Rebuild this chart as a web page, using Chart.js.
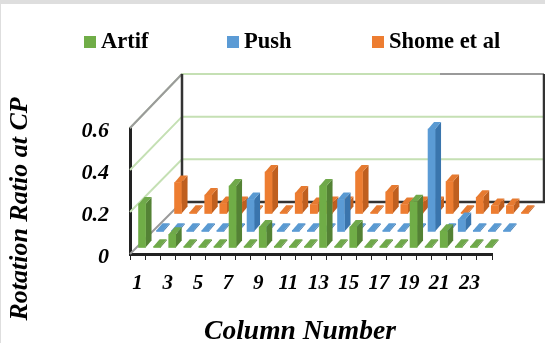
<!DOCTYPE html>
<html>
<head>
<meta charset="utf-8">
<style>
html, body { margin: 0; padding: 0; background: #fff; overflow: hidden; }
#frame { position: absolute; left: 0; top: 0; width: 544px; height: 339px; border-top: 4px solid #dedede; border-left: 1px solid #dedede; }
canvas { position: absolute; left: 0; top: 0; }
</style>
</head>
<body>
<div id="frame"></div>
<canvas id="myChart" width="545" height="343"></canvas>
<script src="https://cdn.jsdelivr.net/npm/chart.js@4"></script>
<script>
const columns = ['1','2','3','4','5','6','7','8','9','10','11','12','13','14','15','16','17','18','19','20','21','22','23','24'];
const artif = [0.21,0.008,0.065,0.008,0.008,0.008,0.295,0.008,0.1,0.008,0.008,0.008,0.295,0.008,0.1,0.008,0.008,0.008,0.22,0.008,0.08,0.008,0.008,0.008];
const push = [0.008,0.008,0.008,0.008,0.008,0.008,0.155,0.008,0.008,0.008,0.008,0.008,0.155,0.008,0.008,0.008,0.008,0.008,0.49,0.008,0.06,0.008,0.008,0.008];
const shome = [0.15,0.008,0.09,0.05,0.05,0.008,0.2,0.008,0.1,0.045,0.05,0.05,0.2,0.008,0.105,0.045,0.05,0.05,0.155,0.008,0.08,0.04,0.04,0.008];
const gridValues = [0.2, 0.4, 0.6];

const serif = 'Liberation Serif';
const green = ['#70ad47', '#548235', '#6fa84a'];
const blue = ['#5b9bd5', '#3a75ad', '#5a9ad2'];
const orange = ['#ed7d31', '#bf5f1f', '#e67a30'];

// depth of each row on the floor
const rows = [
    { dx: 4.5, dy: -6 },
    { dx: 22.5, dy: -22 },
    { dx: 40.5, dy: -40 }
];
const sideX = 6;
const sideY = -7;

const fakeDepth = {
    id: 'fakeDepth',
    beforeDatasetsDraw(chart) {
        const c = chart.ctx;
        const y = chart.scales.y;
        const left = chart.chartArea.left;
        const bx = 182, rx = 544;
        const backY = (v) => 202 - 128 * v / 0.6;
        c.save();
        c.lineWidth = 2;
        c.strokeStyle = '#c5e0b4';
        gridValues.forEach((v) => {
            c.beginPath();
            c.moveTo(left, y.getPixelForValue(v));
            c.lineTo(bx, backY(v));
            c.lineTo(rx, backY(v));
            c.stroke();
        });
        // upper edge
        c.strokeStyle = '#9a9a9a';
        c.beginPath();
        c.moveTo(left, y.getPixelForValue(0.6));
        c.lineTo(bx, backY(0.6));
        c.stroke();
        c.beginPath();
        c.moveTo(440, backY(0.6));
        c.lineTo(rx, backY(0.6));
        c.stroke();
        // floor edge
        c.beginPath();
        c.moveTo(left, y.getPixelForValue(0));
        c.lineTo(bx, backY(0));
        c.stroke();
        // back wall
        c.strokeStyle = '#333';
        c.lineWidth = 2.5;
        c.beginPath();
        c.moveTo(bx, backY(0.6));
        c.lineTo(bx, backY(0));
        c.lineTo(rx, backY(0));
        c.lineTo(rx, backY(0.6));
        c.stroke();
        c.restore();
    },
    beforeDatasetDraw(chart, args) {
        const c = chart.ctx;
        const ds = chart.data.datasets[args.index];
        const row = rows[args.index];
        c.save();
        c.translate(row.dx, row.dy);
        args.meta.data.forEach((bar) => {
            const p = bar.getProps(['x', 'y', 'base', 'width'], true);
            const r = p.x + p.width / 2;
            const l = p.x - p.width / 2;
            c.fillStyle = ds.sideColor;
            c.beginPath();
            c.moveTo(r, p.y);
            c.lineTo(r + sideX, p.y + sideY);
            c.lineTo(r + sideX, p.base + sideY);
            c.lineTo(r, p.base);
            c.closePath();
            c.fill();
            c.fillStyle = ds.topColor;
            c.beginPath();
            c.moveTo(l, p.y);
            c.lineTo(l + sideX, p.y + sideY);
            c.lineTo(r + sideX, p.y + sideY);
            c.lineTo(r, p.y);
            c.closePath();
            c.fill();
        });
    },
    afterDatasetDraw(chart) {
        chart.ctx.restore();
    },
    afterDraw(chart) {
        const c = chart.ctx;
        c.save();
        c.fillStyle = '#000';
        c.textBaseline = 'middle';
        // legend
        const keys = [84, 227, 372];
        c.font = 'bold 22.5px "' + serif + '"';
        chart.data.datasets.forEach((ds, i) => {
            c.fillStyle = ds.backgroundColor;
            c.fillRect(keys[i], 36, 12, 12);
            c.fillStyle = '#000';
            c.fillText(ds.label, keys[i] + 17, 42);
        });
        // axis titles
        c.font = 'italic bold 27.5px "' + serif + '"';
        c.textAlign = 'center';
        c.fillText('Column Number', 300, 332);
        c.translate(20, 209);
        c.rotate(-Math.PI / 2);
        c.font = 'italic bold 26px "' + serif + '"';
        c.fillText('Rotation Ratio at CP', 0, 0);
        c.restore();
    }
};

const ctx = document.getElementById('myChart');

new Chart(ctx, {
    type: 'bar',
    plugins: [fakeDepth],
    data: {
        labels: columns,
        datasets: [
            { label: 'Artif', data: artif, backgroundColor: green[0], sideColor: green[1], topColor: green[2] },
            { label: 'Push', data: push, backgroundColor: blue[0], sideColor: blue[1], topColor: blue[2] },
            { label: 'Shome et al', data: shome, backgroundColor: orange[0], sideColor: orange[1], topColor: orange[2] }
        ]
    },
    options: {
        responsive: false,
        animation: false,
        layout: { padding: { top: 128, right: 53 } },
        datasets: { bar: { barThickness: 7, grouped: false, clip: false } },
        plugins: {
            legend: { display: false },
            tooltip: { enabled: false }
        },
        scales: {
            x: {
                afterFit: (scale) => { scale.height = 89; },
                border: { color: '#222', width: 3 },
                grid: { offset: true, drawOnChartArea: false, color: '#222', tickLength: 6, lineWidth: 1 },
                ticks: {
                    autoSkip: false,
                    maxRotation: 0,
                    color: '#000',
                    padding: 11,
                    font: { family: serif, size: 21, weight: 'bold', style: 'italic' },
                    callback: function(value, index) {
                        return index % 2 === 0 ? this.getLabelForValue(value) : '';
                    }
                }
            },
            y: {
                min: 0,
                max: 0.6,
                afterFit: (scale) => { scale.width = 130; },
                border: { color: '#222', width: 3 },
                grid: { drawOnChartArea: false, drawTicks: false },
                ticks: {
                    stepSize: 0.2,
                    color: '#000',
                    padding: 21,
                    labelOffset: 3,
                    font: { family: serif, size: 22, weight: 'bold', style: 'italic' }
                }
            }
        }
    }
});
</script>
</body>
</html>
